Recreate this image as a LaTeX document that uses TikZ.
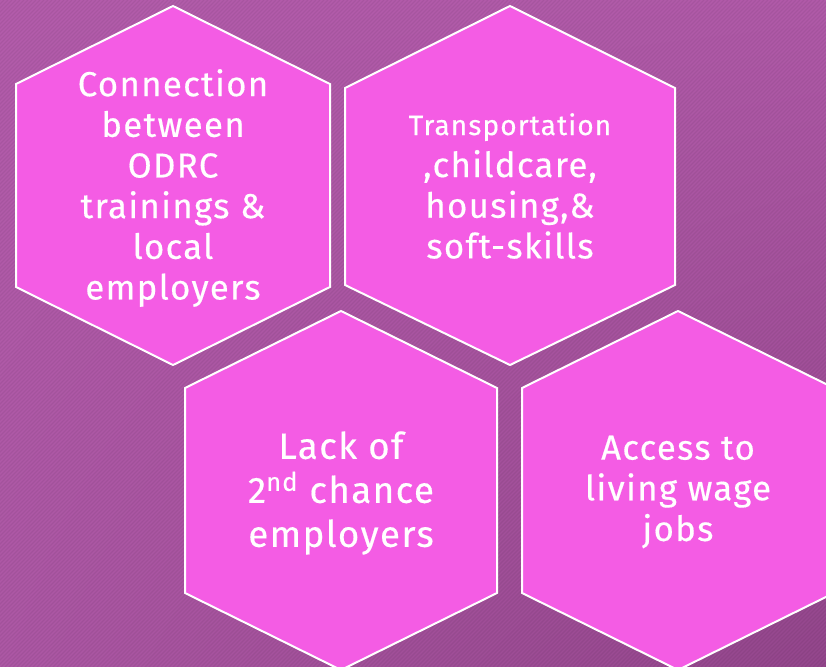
\documentclass[tikz,border=0pt]{standalone}
\usepackage{fontspec}
\setmainfont[LetterSpace=4,FakeBold=0.4]{Fira Sans}
\usetikzlibrary{shadings}
\definecolor{bgtop}{HTML}{B35CAB}
\definecolor{bgbot}{HTML}{94468C}
\definecolor{hexpink}{HTML}{F45CE4}
\begin{document}
\begin{tikzpicture}[x=0.75pt,y=-0.75pt,
    hexcell/.style={fill=hexpink,draw=white,line width=1.5pt,line join=miter},
    hextext/.style={text=white,align=center,inner sep=0pt,font=\fontsize{26}{30.5}\selectfont}]

    % background
    \useasboundingbox (0,0) rectangle (826,667);
    \clip (0,0) rectangle (826,667);
    \shade[upper left=bgtop,upper right=bgtop!92!bgbot,lower left=bgtop!80!bgbot,lower right=bgbot] (0,0) rectangle (826,667);
    \foreach \s in {0,4,...,1500}
        \draw[black,opacity=0.06,line width=0.9pt] (\s,0) -- ++(-667,667);

    % hexagons
    \draw[hexcell] (173,6) -- ++(157,78) -- ++(0,203) -- ++(-157,78) -- ++(-157,-78) -- ++(0,-203) -- cycle;
    \draw[hexcell] (510,6) -- ++(165,82) -- ++(0,197) -- ++(-165,80) -- ++(-165,-80) -- ++(0,-197) -- cycle;
    \draw[hexcell] (341,311) -- ++(156,77) -- ++(0,205) -- ++(-156,77) -- ++(-156,-77) -- ++(0,-205) -- cycle;
    \draw[hexcell] (678,311) -- ++(156,77) -- ++(0,205) -- ++(-156,77) -- ++(-156,-77) -- ++(0,-205) -- cycle;

    % labels
    \node[hextext] (conn) at (173,188) {Connection\\between\\ODRC\\trainings \&\\local\\employers};
    \node[hextext] (transp) at (510,186) {{\fontsize{21}{24}\selectfont Transportation}\\[1pt],childcare,\\housing,\&\\soft-skills};
    \node[hextext,font=\fontsize{27.5}{33}\selectfont] (lack) at (341,493) {Lack of\\2\textsuperscript{nd} chance\\employers};
    \node[hextext] (access) at (678,492) {Access to\\living wage\\jobs};
\end{tikzpicture}
\end{document}
